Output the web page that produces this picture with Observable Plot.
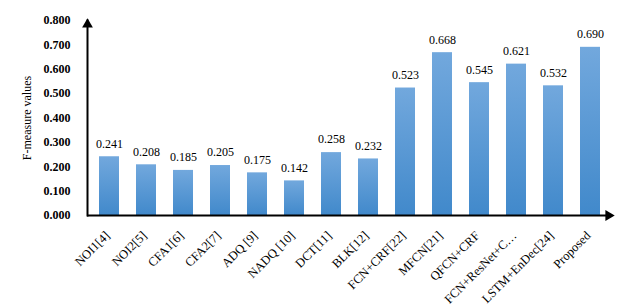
<!DOCTYPE html>
<html><head><meta charset="utf-8">
<script src="https://cdn.jsdelivr.net/npm/d3@7"></script>
<script src="https://cdn.jsdelivr.net/npm/@observablehq/plot@0.6"></script>
<style>body{margin:0;background:#fff}#chart{position:relative;width:637px;height:305px}</style>
</head><body><div id="chart"></div>
<script>
const methods = ["NOI1[4]", "NOI2[5]", "CFA1[6]", "CFA2[7]", "ADQ [9]", "NADQ [10]", "DCT[11]", "BLK[12]", "FCN+CRF[22]", "MFCN[21]", "QFCN+CRF", "FCN+ResNet+C…", "LSTM+EnDec[24]", "Proposed"];
const fMeasure = [0.241, 0.208, 0.185, 0.205, 0.175, 0.142, 0.258, 0.232, 0.523, 0.668, 0.545, 0.621, 0.532, 0.690];
const yTicks = [0, 0.1, 0.2, 0.3, 0.4, 0.5, 0.6, 0.7, 0.8];
const yTitle = "F-measure values";

const data = methods.map((m, i) => ({method: m, value: fMeasure[i]}));
const fmt = d3.format(".3f");

const plot = Plot.plot({
  width: 637, height: 305,
  marginLeft: 87, marginRight: 26, marginTop: 20, marginBottom: 90,
  style: {fontFamily: "'Liberation Serif', 'Times New Roman', serif", fontSize: "12px", background: "#fff", color: "#000"},
  x: {domain: methods, paddingInner: 0.47, paddingOuter: 0.22, label: null},
  y: {domain: [0, 0.8], label: null},
  marks: [
    Plot.barY(data, {x: "method", y: "value", fill: "url(#barGrad)"}),
    Plot.text(data, {x: "method", y: "value", text: d => fmt(d.value), dy: -13, fontSize: 12, fill: "#000"}),
    Plot.axisY({ticks: yTicks, tickSize: 0, tickPadding: 17, tickFormat: fmt, fontWeight: "bold", label: null}),
    Plot.axisX({tickSize: 0, tickRotate: -45, tickPadding: 18, dx: -2, fontSize: 12.5, label: null}),
    Plot.ruleY([0], {stroke: "#000", strokeWidth: 2}),
    Plot.frame({anchor: "left", stroke: "#000", strokeWidth: 2}),
    Plot.dot([yTitle], {frameAnchor: "top-left", symbol: "triangle", r: 4, fill: "#000", stroke: null, dy: 4}),
    Plot.dot([yTitle], {frameAnchor: "bottom-right", symbol: "triangle", r: 4, rotate: 90, fill: "#000", stroke: null, dx: -3}),
    Plot.text([yTitle], {frameAnchor: "left", text: d => d, rotate: -90, textAnchor: "middle", dx: -60, dy: 0, fontSize: 12, fill: "#000"})
  ]
});

const svg = d3.select(plot);
const defs = svg.insert("defs", ":first-child");
const g = defs.append("linearGradient").attr("id", "barGrad").attr("x1", 0).attr("y1", 0).attr("x2", 0).attr("y2", 1);
g.append("stop").attr("offset", "0%").attr("stop-color", "#72a8dd");
g.append("stop").attr("offset", "100%").attr("stop-color", "#4189cb");
document.getElementById("chart").appendChild(plot);
</script>
</body></html>
